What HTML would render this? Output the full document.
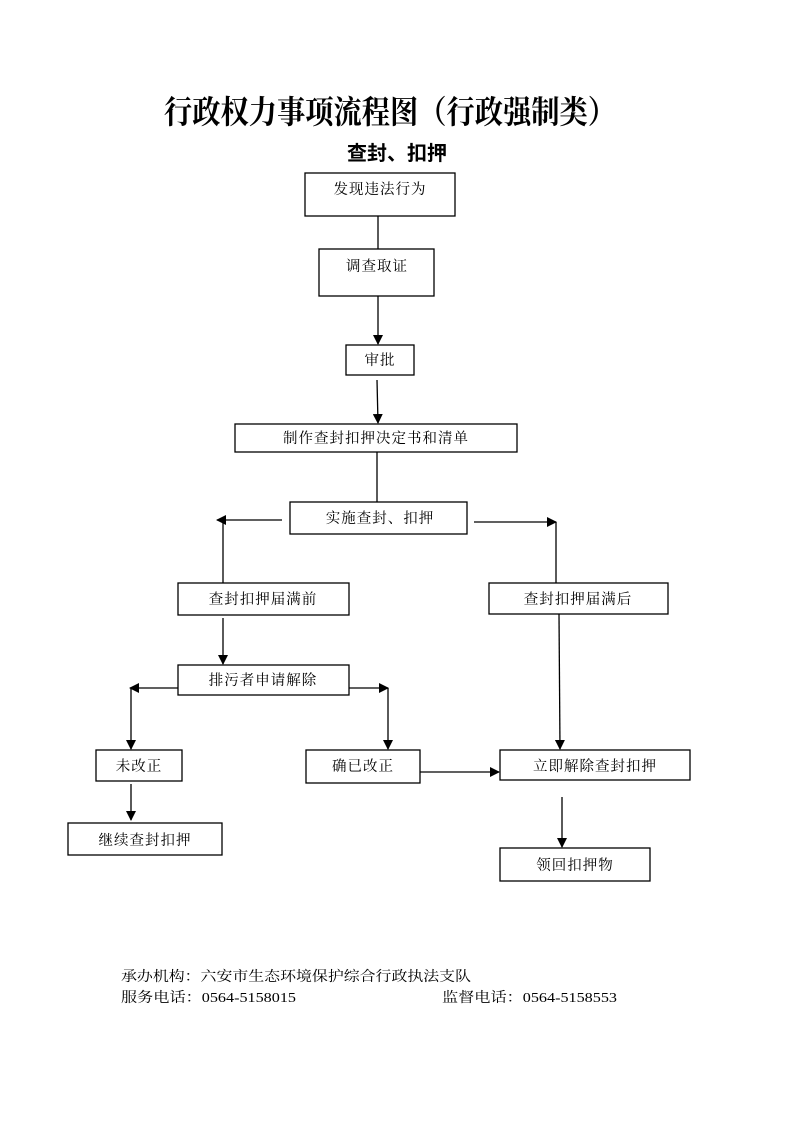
<!DOCTYPE html>
<html><head><meta charset="utf-8"><style>
html,body{margin:0;padding:0;background:#fff;}
svg{display:block;}
.s{font-family:"Liberation Serif","Noto Serif CJK SC",serif;}
.b{fill:#fff;stroke:#000;stroke-width:1.3;}
.l{stroke:#000;stroke-width:1.3;fill:none;}
</style></head><body>
<svg width="793" height="1122" viewBox="0 0 793 1122" xmlns="http://www.w3.org/2000/svg">
<defs><marker id="a" markerWidth="10" markerHeight="10" refX="9" refY="5" orient="auto" markerUnits="userSpaceOnUse"><path d="M0,0 L10,5 L0,10 z" fill="#000"/></marker></defs>
<text x="390" y="123" text-anchor="middle" class="s" font-size="32" font-weight="bold" textLength="452" lengthAdjust="spacingAndGlyphs">行政权力事项流程图（行政强制类）</text>
<text x="397" y="160" text-anchor="middle" font-family="Liberation Sans,Noto Sans CJK SC,sans-serif" font-weight="bold" font-size="20">查封、扣押</text>
<g font-family="Liberation Serif,Noto Serif CJK SC,serif" font-size="14.5" text-anchor="middle" letter-spacing="1">
<rect class="b" x="305" y="173" width="150" height="43"/><text x="380" y="194">发现违法行为</text>
<rect class="b" x="319" y="249" width="115" height="47"/><text x="377" y="271">调查取证</text>
<rect class="b" x="346" y="345" width="68" height="30"/><text x="380" y="365">审批</text>
<rect class="b" x="235" y="424" width="282" height="28"/><text x="376" y="443">制作查封扣押决定书和清单</text>
<rect class="b" x="290" y="502" width="177" height="32"/><text x="380" y="523">实施查封、扣押</text>
<rect class="b" x="178" y="583" width="171" height="32"/><text x="263" y="604">查封扣押届满前</text>
<rect class="b" x="489" y="583" width="179" height="31"/><text x="578" y="604">查封扣押届满后</text>
<rect class="b" x="178" y="665" width="171" height="30"/><text x="263" y="685">排污者申请解除</text>
<rect class="b" x="96" y="750" width="86" height="31"/><text x="139" y="771">未改正</text>
<rect class="b" x="306" y="750" width="114" height="33"/><text x="363" y="771">确已改正</text>
<rect class="b" x="500" y="750" width="190" height="30"/><text x="595" y="771">立即解除查封扣押</text>
<rect class="b" x="68" y="823" width="154" height="32"/><text x="145" y="845">继续查封扣押</text>
<rect class="b" x="500" y="848" width="150" height="33"/><text x="575" y="870">领回扣押物</text>
</g>
<g class="l">
<line x1="378" y1="216" x2="378" y2="249"/>
<line x1="378" y1="296" x2="378" y2="344" marker-end="url(#a)"/>
<line x1="377" y1="380" x2="378" y2="423" marker-end="url(#a)"/>
<line x1="377" y1="452" x2="377" y2="502"/>
<line x1="282" y1="520" x2="217" y2="520" marker-end="url(#a)"/>
<line x1="223" y1="520" x2="223" y2="583"/>
<line x1="474" y1="522" x2="556" y2="522" marker-end="url(#a)"/>
<line x1="556" y1="522" x2="556" y2="583"/>
<line x1="223" y1="618" x2="223" y2="664" marker-end="url(#a)"/>
<line x1="178" y1="688" x2="130" y2="688" marker-end="url(#a)"/>
<line x1="131" y1="688" x2="131" y2="749" marker-end="url(#a)"/>
<line x1="349" y1="688" x2="388" y2="688" marker-end="url(#a)"/>
<line x1="388" y1="688" x2="388" y2="749" marker-end="url(#a)"/>
<line x1="131" y1="784" x2="131" y2="820" marker-end="url(#a)"/>
<line x1="420" y1="772" x2="499" y2="772" marker-end="url(#a)"/>
<line x1="559" y1="614" x2="560" y2="749" marker-end="url(#a)"/>
<line x1="562" y1="797" x2="562" y2="847" marker-end="url(#a)"/>
</g>
<g class="s" font-size="14">
<text x="121" y="981" textLength="350" lengthAdjust="spacingAndGlyphs">承办机构：六安市生态环境保护综合行政执法支队</text>
<text x="121" y="1002" textLength="175" lengthAdjust="spacingAndGlyphs">服务电话：0564-5158015</text>
<text x="442" y="1002" textLength="175" lengthAdjust="spacingAndGlyphs">监督电话：0564-5158553</text>
</g>
</svg>
</body></html>
